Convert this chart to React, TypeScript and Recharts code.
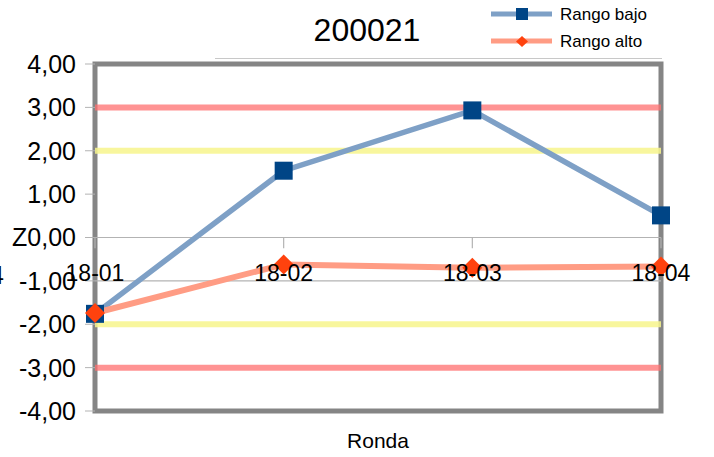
import React from 'react';
import { LineChart, Line, XAxis, YAxis, ReferenceLine, ReferenceArea, Legend } from 'recharts';

const categories = ['18-01', '18-02', '18-03', '18-04'];
const rangoBajo = [-1.76, 1.54, 2.93, 0.51];
const rangoAlto = [-1.74, -0.62, -0.7, -0.67];
const redLimits = [3, -3];
const yellowLimits = [2, -2];
const yTicks = [-4, -3, -2, -1, 0, 1, 2, 3, 4];
const title = '200021';
const xTitle = 'Ronda';
const seriesNames = ['Rango bajo', 'Rango alto'];

const data = categories.map((c, i) => ({ cat: c, bajo: rangoBajo[i], alto: rangoAlto[i] }));

const FONT = '"Liberation Sans", Arial, sans-serif';
const BLUE_LINE = '#7ea0c6';
const BLUE_MARK = '#004586';
const ORANGE_LINE = '#ff9c84';
const ORANGE_MARK = '#ff420e';

const SquareDot = (props: any) => {
  const { cx, cy } = props;
  if (cx == null || cy == null) return null;
  return <rect x={cx - 9} y={cy - 9} width={18} height={18} fill={BLUE_MARK} />;
};

const DiamondDot = (props: any) => {
  const { cx, cy } = props;
  if (cx == null || cy == null) return null;
  const r = 10;
  return <polygon points={`${cx},${cy - r} ${cx + r},${cy} ${cx},${cy + r} ${cx - r},${cy}`} fill={ORANGE_MARK} />;
};

const fmt = (v: number) => (v === 0 ? 'Z' : '') + v.toFixed(2).replace('.', ',');

const XTick = (props: any) => {
  const { x, y, payload } = props;
  return (
    <text x={x} y={y - 130} textAnchor="middle" fontSize={23} fontFamily={FONT} fill="#000">
      {payload.value}
    </text>
  );
};

const LegendContent = () => (
  <svg width={200} height={56}>
    <line x1={3} x2={64} y1={14} y2={14} stroke={BLUE_LINE} strokeWidth={5} />
    <rect x={28} y={8} width={12} height={12} fill={BLUE_MARK} />
    <text x={72} y={20} fontSize={17} fontFamily={FONT} fill="#000">{seriesNames[0]}</text>
    <line x1={3} x2={64} y1={41} y2={41} stroke={ORANGE_LINE} strokeWidth={5} />
    <polygon points="34,36 40,41.5 34,47 28,41.5" fill={ORANGE_MARK} />
    <text x={72} y={47} fontSize={17} fontFamily={FONT} fill="#000">{seriesNames[1]}</text>
  </svg>
);

export default function App() {
  return (
    <div style={{ position: 'absolute', left: 0, top: 0, width: 714, height: 457, background: '#fff', overflow: 'hidden', fontFamily: FONT }}>
      <div style={{ position: 'absolute', left: 0, width: 734, top: 12, textAlign: 'center', fontSize: 32, lineHeight: '36px', color: '#000' }}>{title}</div>
      <div style={{ position: 'absolute', left: 215, width: 447, top: 58, height: 1, background: '#c8c8c8' }} />
      <div style={{ position: 'absolute', left: -10, top: 260, fontSize: 25, lineHeight: '30px', color: '#000' }}>4</div>
      <LineChart width={714} height={457} data={data} margin={{ top: 64, right: 53, bottom: 0, left: 0 }}>
        <XAxis
          dataKey="cat"
          axisLine={false}
          tickLine={false}
          tickSize={0}
          tickMargin={0}
          tick={<XTick />}
          interval={0}
          height={46}
          label={{ value: xTitle, position: 'insideBottom', offset: 9, fontSize: 21, fontFamily: FONT, fill: '#000' }}
        />
        <YAxis
          type="number"
          domain={[-4, 4]}
          ticks={yTicks}
          width={95}
          axisLine={false}
          tickLine={{ stroke: '#b3b3b3' }}
          tickSize={10}
          tickMargin={9}
          tickFormatter={fmt}
          tick={{ fontSize: 25, fontFamily: FONT, fill: '#000' }}
          interval={0}
        />
        <ReferenceLine y={0} stroke="#b3b3b3" strokeWidth={1.2} />
        <ReferenceLine y={-1} stroke="#b3b3b3" strokeWidth={1.2} />
        {categories.map((c) => (
          <ReferenceLine key={c} segment={[{ x: c, y: 0 }, { x: c, y: -0.25 }]} stroke="#b3b3b3" strokeWidth={1.2} />
        ))}
        {yellowLimits.map((v) => (
          <ReferenceLine key={'y' + v} y={v} stroke="#f7f48c" strokeOpacity={0.85} strokeWidth={6} />
        ))}
        {redLimits.map((v) => (
          <ReferenceLine key={'r' + v} y={v} stroke="#ff6f6f" strokeOpacity={0.75} strokeWidth={6} />
        ))}
        <ReferenceArea x1="18-01" x2="18-04" y1={-4} y2={4} fill="none" stroke="#858585" strokeWidth={5} ifOverflow="visible" />
        <Line dataKey="bajo" name={seriesNames[0]} stroke={BLUE_LINE} strokeWidth={5.5} dot={<SquareDot />} activeDot={false} isAnimationActive={false} />
        <Line dataKey="alto" name={seriesNames[1]} stroke={ORANGE_LINE} strokeWidth={6} dot={<DiamondDot />} activeDot={false} isAnimationActive={false} />
        <Legend layout="vertical" align="center" verticalAlign="middle" content={<LegendContent />} wrapperStyle={{ position: 'absolute', left: 488, top: 0, width: 200, height: 56 }} />
      </LineChart>
    </div>
  );
}
